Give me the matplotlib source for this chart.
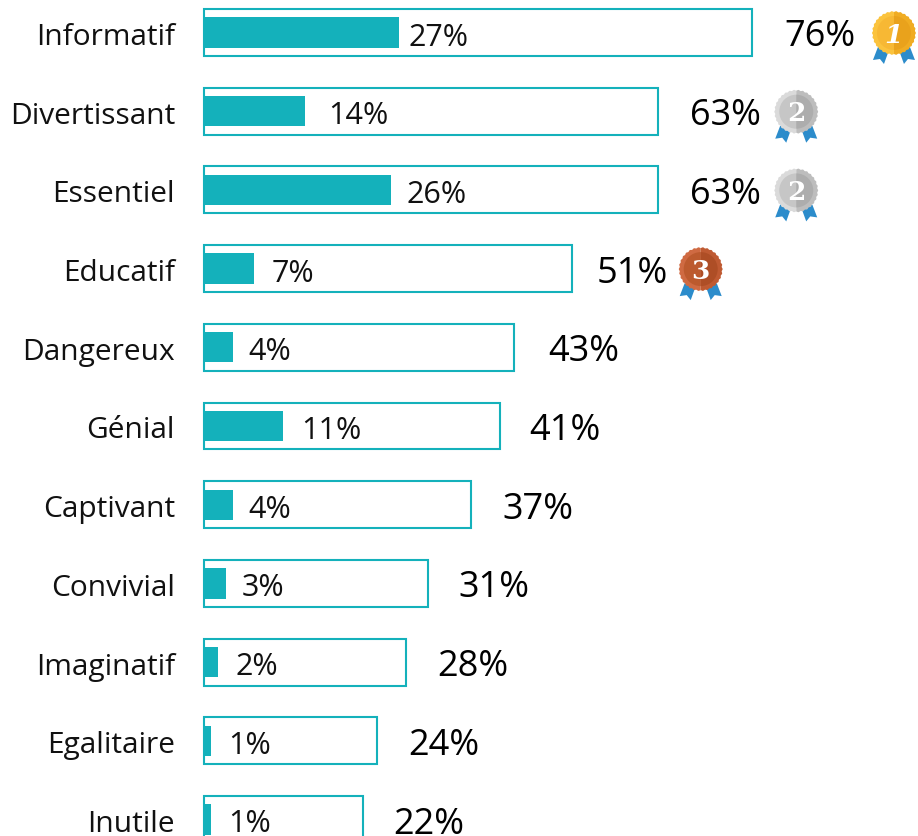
import numpy as np
import matplotlib
matplotlib.use("Agg")
import matplotlib.pyplot as plt
from matplotlib.patches import Polygon, Wedge
from matplotlib.transforms import IdentityTransform

categories = ["Informatif", "Divertissant", "Essentiel", "Educatif", "Dangereux", "Génial",
              "Captivant", "Convivial", "Imaginatif", "Egalitaire", "Inutile"]
total_values = [76, 63, 63, 51, 43, 41, 37, 31, 28, 24, 22]
inner_values = [27, 14, 26, 7, 4, 11, 4, 3, 2, 1, 1]
medal_ranks = [1, 2, 2, 3]

# label gaps in pixels, the original ones are not regular
inner_pad = [10, 23, 15, 17, 16, 18, 16, 16, 17, 17, 17]
outer_pad = [32, 32, 32, 25, 34, 30, 32, 31, 31, 31, 31]
medal_pad = [142, 138, 138, 129]

TEAL = "#14B1BB"
W, H = 918, 837
X0 = 204
PX_PER_PCT = 7.21
Y0 = 33.5
ROW = 78.7

medal_colors = {
    1: ("#FBC33D", "#F0AC22", "#F7B834", "#E9A21C"),
    2: ("#DADADA", "#BDBDBD", "#C6C6C6", "#ADADAD"),
    3: ("#CF6A42", "#BF5A32", "#BC5A2E", "#AE4E26"),
}

plt.rcParams["font.family"] = ["Open Sans", "DejaVu Sans"]

fig = plt.figure(figsize=(W / 100, H / 100), dpi=100)
ax = fig.add_axes([0, 0, 1, 1])
ax.set_xlim(-X0 / PX_PER_PCT, (W - X0) / PX_PER_PCT)
ax.set_ylim((H - Y0) / ROW, -Y0 / ROW)
ax.axis("off")

y = np.arange(len(categories))
ax.barh(y, total_values, height=0.595, color="white", edgecolor=TEAL, linewidth=1.5, zorder=1)
ax.barh(y, inner_values, height=0.385, color=TEAL, linewidth=0, zorder=2)

px = 1 / PX_PER_PCT
dy = 4 / ROW
for i in range(len(categories)):
    ax.text(-29 * px, i + dy, categories[i], ha="right", va="center", fontsize=21.5, color="#111111")
    ax.text(inner_values[i] + inner_pad[i] * px, i + dy, f"{inner_values[i]}%", ha="left", va="center",
            fontsize=22, color="#111111", zorder=3)
    ax.text(total_values[i] + outer_pad[i] * px, i + dy, f"{total_values[i]}%", ha="left", va="center",
            fontsize=26, color="black", zorder=3)


def draw_medal(cx, cy, rank):
    # cx, cy are figure pixels, y going up
    t = IdentityTransform()
    c1, c2, c3, c4 = medal_colors[rank]
    for side in (-1, 1):
        ribbon = [(cx + side * 16, cy - 14), (cx + side * 6, cy - 20), (cx + side * 10, cy - 31),
                  (cx + side * 14, cy - 26), (cx + side * 21, cy - 27)]
        ax.add_patch(Polygon(ribbon, closed=True, color="#2C8CCB", lw=0, transform=t, zorder=4))
    theta = np.linspace(0, 2 * np.pi, 361)
    left = theta[90:271]
    right = np.concatenate([theta[270:360], theta[:91]])
    for part, col in ((left, c1), (right, c2)):
        rr = 21.5 + 0.4 * np.cos(30 * part)
        pts = np.column_stack([cx + rr * np.cos(part), cy + rr * np.sin(part)])
        ax.add_patch(Polygon(pts, closed=True, color=col, lw=0, transform=t, zorder=5))
    ax.add_patch(Wedge((cx, cy), 17, 90, 270, color=c3, lw=0, transform=t, zorder=6))
    ax.add_patch(Wedge((cx, cy), 17, -90, 90, color=c4, lw=0, transform=t, zorder=6))
    fig.text(cx / W, (cy - 1) / H, str(rank), ha="center", va="center", fontsize=19, color="white",
             family="DejaVu Serif", weight="bold", style="italic" if rank == 1 else "normal", zorder=7)


for i, rank in enumerate(medal_ranks):
    cx, cy = ax.transData.transform((total_values[i] + medal_pad[i] * px, i))
    draw_medal(cx, cy - 0.5, rank)

fig.savefig("out.png", dpi=100)
